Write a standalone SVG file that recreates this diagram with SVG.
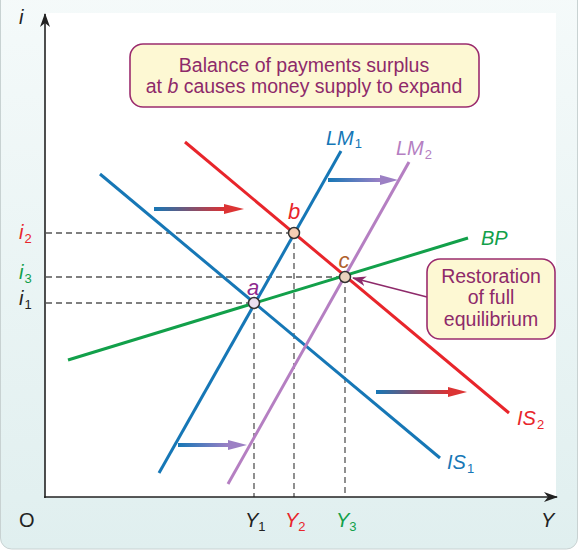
<svg xmlns="http://www.w3.org/2000/svg" width="579" height="551" viewBox="0 0 579 551">
<style>
text{font-family:"Liberation Sans",Arial,sans-serif}
.it{font-style:italic}
.lbl{font-size:20px}
.pl{font-size:22px}
.sub{font-size:13px;font-style:normal}
.curve{fill:none;stroke-width:3;stroke-linecap:butt}
.dash{fill:none;stroke:#555;stroke-width:1.3;stroke-dasharray:6 4}
.pt{stroke:#333;stroke-width:1.5}
.box{fill:#fdf8d3;stroke:#9b2c6e;stroke-width:1.6}
.boxt{fill:#8e2a6a;font-size:19.5px;text-anchor:middle}
</style>
<defs>
<linearGradient id="bg" x1="0" y1="0" x2="0" y2="1">
<stop offset="0" stop-color="#f5fafa"/>
<stop offset="1" stop-color="#e0efef"/>
</linearGradient>
<linearGradient id="gBR" x1="0" y1="0" x2="1" y2="0">
<stop offset="0" stop-color="#1677b6"/>
<stop offset="1" stop-color="#e03030"/>
</linearGradient>
<linearGradient id="gBP" x1="0" y1="0" x2="1" y2="0">
<stop offset="0" stop-color="#1677b6"/>
<stop offset="1" stop-color="#a080c6"/>
</linearGradient>
<marker id="axarr" markerWidth="14" markerHeight="10" refX="13" refY="5" orient="auto" markerUnits="userSpaceOnUse">
<path d="M0,0 L14,5 L0,10 L4,5 Z" fill="#222"/>
</marker>
<marker id="callarr" markerWidth="14" markerHeight="10" refX="13" refY="5" orient="auto" markerUnits="userSpaceOnUse">
<path d="M0,0 L14,5 L0,10 L4,5 Z" fill="#8e2a6a"/>
</marker>
</defs>
<rect x="0.5" y="-12" width="577" height="561" rx="11" fill="url(#bg)" stroke="#c8d2d2" stroke-width="1"/>
<rect x="45" y="13" width="511" height="484" fill="#fff"/>

<g id="connectors">
<path class="dash" d="M46,233 H294 M46,277 H345 M46,303 H254 M254,303 V497 M294,233 V497 M345,277 V497"/>
<line id="IS1" class="curve" x1="100" y1="174" x2="440" y2="458" stroke="#1677b6"/>
<line id="IS2" class="curve" x1="185" y1="142" x2="509" y2="413" stroke="#e8252b"/>
<line id="LM1" class="curve" x1="341" y1="151" x2="159" y2="473" stroke="#1677b6"/>
<line id="LM2" class="curve" x1="409" y1="162" x2="228" y2="484" stroke="#b57fc2"/>
<line id="BP" class="curve" x1="68" y1="360" x2="468" y2="238" stroke="#12a04a"/>
<g>
<rect x="154" y="207" width="72" height="4" fill="url(#gBR)"/>
<path d="M224,204 L244,209 L224,214 Z" fill="#dc3434"/>
<rect x="376" y="390" width="74" height="4" fill="url(#gBR)"/>
<path d="M448,387 L467,392 L448,397 Z" fill="#dc3434"/>
<rect x="328" y="178" width="54" height="4" fill="url(#gBP)"/>
<path d="M380,175 L398,180 L380,185 Z" fill="#9c80c4"/>
<rect x="178" y="443" width="52" height="4" fill="url(#gBP)"/>
<path d="M228,440 L247,445 L228,450 Z" fill="#9c80c4"/>
</g>
<line x1="45" y1="498" x2="45" y2="14" stroke="#222" stroke-width="1.6" marker-end="url(#axarr)"/>
<line x1="44" y1="497" x2="557" y2="497" stroke="#222" stroke-width="1.6" marker-end="url(#axarr)"/>
<line x1="427" y1="297" x2="353" y2="278" stroke="#8e2a6a" stroke-width="1.6" marker-end="url(#callarr)"/>
</g>

<g id="point-a"><circle class="pt" cx="254" cy="303" r="5.5" fill="#ebdff0"/><text class="it pl" x="253" y="295" text-anchor="middle" fill="#8e2a8e">a</text></g>
<g id="point-b"><circle class="pt" cx="294" cy="233" r="5.5" fill="#f6cdb3"/><text class="it pl" x="294" y="219" text-anchor="middle" fill="#e8252b">b</text></g>
<g id="point-c"><circle class="pt" cx="345" cy="277" r="5.5" fill="#e9d2bd"/><text class="it pl" x="344" y="268" text-anchor="middle" fill="#b0602c">c</text></g>

<g id="labels">
<text class="it lbl" x="326" y="145" fill="#1677b6">LM<tspan class="sub" dx="1" dy="3">1</tspan></text>
<text class="it lbl" x="396" y="155" fill="#b57fc2">LM<tspan class="sub" dx="1" dy="4">2</tspan></text>
<text class="it lbl" x="481" y="245" fill="#12a04a">BP</text>
<text class="it lbl" x="517" y="425" fill="#e8252b">IS<tspan class="sub" dx="1" dy="4">2</tspan></text>
<text class="it lbl" x="447" y="469" fill="#1677b6">IS<tspan class="sub" dx="1" dy="4">1</tspan></text>
<text class="it lbl" x="19" y="24" fill="#222">i</text>
<text class="lbl" x="19" y="527" fill="#222">O</text>
<text class="it lbl" x="541" y="527" fill="#222">Y</text>
<text class="it lbl" x="245" y="527" fill="#222">Y<tspan class="sub" dx="0" dy="4">1</tspan></text>
<text class="it lbl" x="285" y="527" fill="#e8252b">Y<tspan class="sub" dx="0" dy="4">2</tspan></text>
<text class="it lbl" x="336" y="527" fill="#12a04a">Y<tspan class="sub" dx="0" dy="4">3</tspan></text>
<text class="it lbl" x="19" y="239" fill="#e8252b">i<tspan class="sub" dx="1" dy="4">2</tspan></text>
<text class="it lbl" x="19" y="279" fill="#12a04a">i<tspan class="sub" dx="1" dy="4">3</tspan></text>
<text class="it lbl" x="19" y="305" fill="#222">i<tspan class="sub" dx="1" dy="4">1</tspan></text>
</g>

<g id="callout-top">
<rect class="box" x="130" y="44" width="349" height="63" rx="13"/>
<text class="boxt" x="304" y="72">Balance of payments surplus</text>
<text class="boxt" x="304" y="93">at <tspan font-style="italic">b</tspan> causes money supply to expand</text>
</g>
<g id="callout-right">
<rect class="box" x="427" y="259" width="128" height="80" rx="13"/>
<text class="boxt" x="491" y="283">Restoration</text>
<text class="boxt" x="491" y="304">of full</text>
<text class="boxt" x="491" y="326">equilibrium</text>
</g>
</svg>
